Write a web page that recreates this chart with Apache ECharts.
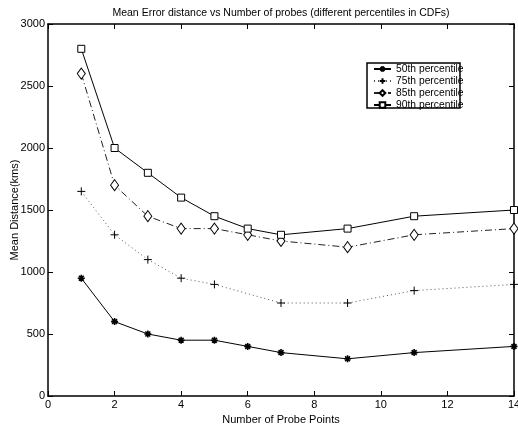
<!DOCTYPE html>
<html><head><meta charset="utf-8">
<script src="https://cdn.jsdelivr.net/npm/echarts@6/dist/echarts.min.js"></script>
<style>html,body{margin:0;padding:0;background:#fff}#c{width:518px;height:425px}</style>
</head><body><div id="c"></div>
<script>
const titleText = 'Mean Error distance vs Number of probes (different percentiles in CDFs)';
const xName = 'Number of Probe Points';
const yName = 'Mean Distance(kms)';
const xAll = [1, 2, 3, 4, 5, 6, 7, 9, 11, 14];
const x75 = [1, 2, 3, 4, 5, 7, 9, 11, 14];
const p50 = [950, 600, 500, 450, 450, 400, 350, 300, 350, 400];
const p75 = [1650, 1300, 1100, 950, 900, 750, 750, 850, 900];
const p85 = [2600, 1700, 1450, 1350, 1350, 1300, 1250, 1200, 1300, 1350];
const p90 = [2800, 2000, 1800, 1600, 1450, 1350, 1300, 1350, 1450, 1500];
const names = ['50th percentile', '75th percentile', '85th percentile', '90th percentile'];

const zip = (xs, ys) => xs.map((x, i) => [x, ys[i]]);
const FONT = 'Liberation Sans, Arial, sans-serif';
const chart = echarts.init(document.getElementById('c'), null, {renderer: 'canvas'});

const star = 'path://M5,0L5,10M0,5L10,5M1.5,1.5L8.5,8.5M8.5,1.5L1.5,8.5';
const plus = 'path://M5,0L5,10M0,5L10,5';

chart.setOption({
  animation: false,
  backgroundColor: '#fff',
  title: {text: titleText, left: 276, textAlign: 'center', top: 3,
    textStyle: {fontFamily: FONT, fontSize: 10.5, fontWeight: 'normal', color: '#000'}},
  grid: {left: 48, right: 4, top: 24, bottom: 29, containLabel: false, outerBoundsMode: 'none'},
  legend: {
    orient: 'vertical', left: 373, top: 63, itemGap: 0, itemWidth: 17, itemHeight: 7,
    padding: 0, itemTextGap: 5,
    textStyle: {fontFamily: FONT, fontSize: 10.3, color: '#000', lineHeight: 12},
    data: names
  },
  graphic: [{
    type: 'rect', z: 100, silent: true,
    shape: {x: 367, y: 63, width: 93, height: 45},
    style: {fill: null, stroke: '#000', lineWidth: 1.5}
  }],
  xAxis: [{
    type: 'value', min: 0, max: 14, interval: 2,
    name: xName, nameLocation: 'middle', nameGap: 15,
    nameTextStyle: {fontFamily: FONT, fontSize: 11, color: '#000'},
    axisLine: {onZero: false, lineStyle: {color: '#000', width: 1.5}},
    axisTick: {inside: true, length: 5, lineStyle: {color: '#000'}},
    axisLabel: {margin: 3, fontFamily: FONT, fontSize: 11, color: '#000'},
    splitLine: {show: false}
  }, {
    type: 'value', position: 'top', min: 0, max: 14, interval: 2,
    axisLine: {onZero: false, lineStyle: {color: '#000', width: 1.5}},
    axisTick: {inside: true, length: 5, lineStyle: {color: '#000'}},
    axisLabel: {show: false}, splitLine: {show: false}
  }],
  yAxis: [{
    type: 'value', min: 0, max: 3000, interval: 500,
    name: yName, nameLocation: 'middle', nameGap: 28, nameMoveOverlap: false,
    nameTextStyle: {fontFamily: FONT, fontSize: 11, color: '#000'},
    axisLine: {show: true, onZero: false, lineStyle: {color: '#000', width: 1.5}},
    axisTick: {show: true, inside: true, length: 5, lineStyle: {color: '#000'}},
    axisLabel: {margin: 3, fontFamily: FONT, fontSize: 11, color: '#000', formatter: v => String(v)},
    splitLine: {show: false}
  }, {
    type: 'value', position: 'right', min: 0, max: 3000, interval: 500,
    axisLine: {show: true, onZero: false, lineStyle: {color: '#000', width: 1.5}},
    axisTick: {show: true, inside: true, length: 5, lineStyle: {color: '#000'}},
    axisLabel: {show: false}, splitLine: {show: false}
  }],
  series: [
    {name: names[0], type: 'line', data: zip(xAll, p50), symbol: star, symbolSize: 7,
      lineStyle: {color: '#000', width: 1},
      itemStyle: {color: '#000', borderColor: '#000', borderWidth: 1.6}},
    {name: names[1], type: 'line', data: zip(x75, p75), symbol: plus, symbolSize: 8,
      lineStyle: {color: '#555', width: 1, type: [1, 3]},
      itemStyle: {color: '#000', borderColor: '#000', borderWidth: 1}},
    {name: names[2], type: 'line', data: zip(xAll, p85), symbol: 'diamond', symbolSize: [8, 11],
      lineStyle: {color: '#222', width: 1, type: [7, 3, 1, 3]},
      itemStyle: {color: '#fff', borderColor: '#000', borderWidth: 1}},
    {name: names[3], type: 'line', data: zip(xAll, p90), symbol: 'rect', symbolSize: 7,
      lineStyle: {color: '#000', width: 1},
      itemStyle: {color: '#fff', borderColor: '#000', borderWidth: 1}}
  ]
});
</script></body></html>
